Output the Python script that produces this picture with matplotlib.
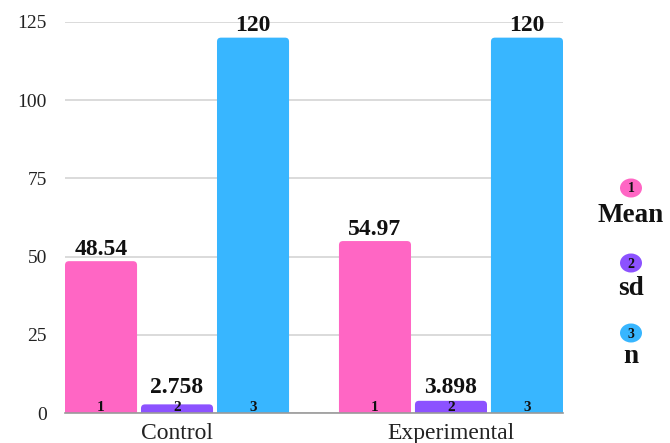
import matplotlib
matplotlib.use("Agg")
import matplotlib.pyplot as plt
from matplotlib.patches import FancyBboxPatch, Ellipse
import numpy as np

plt.rcParams['font.family'] = ['Liberation Serif', 'DejaVu Serif']

groups = ["Control", "Experimental"]
series = ["Mean", "sd", "n"]
mean_vals = [48.54, 54.97]
sd_vals = [2.758, 3.898]
n_vals = [120, 120]
value_labels = [["48.54", "54.97"], ["2.758", "3.898"], ["120", "120"]]
colors = ["#FF66C4", "#8C52FF", "#38B6FF"]
yticks = [0, 25, 50, 75, 100, 125]

fig = plt.figure(figsize=(6.7, 4.43), dpi=100)
ax = fig.add_axes([65 / 670, 1 - 413 / 443, (563 - 65) / 670, (413 - 22) / 443])

x = np.arange(len(groups))
step = 0.2774
width = 0.263
ax.set_xlim(-step - width / 2, 1 + step + width / 2)
ax.set_ylim(0, 125)

# pixel scales used for rounded bar tops
px_x = (ax.get_xlim()[1] - ax.get_xlim()[0]) / (563 - 65)
px_y = 125 / (413 - 22)
r_px = 4
# top of the small index numbers inside the bars, in data units
index_top = 14 * px_y

all_vals = [mean_vals, sd_vals, n_vals]
for i, (vals, col) in enumerate(zip(all_vals, colors)):
    bars = ax.bar(x + (i - 1) * step, vals, width, color=col, visible=False)
    for j, b in enumerate(bars):
        bx, bw, bh = b.get_x(), b.get_width(), b.get_height()
        rx = r_px * px_x
        ry = r_px * px_y
        p = FancyBboxPatch((bx + rx, 0), bw - 2 * rx, bh - ry,
                           boxstyle=f"round,pad={rx},rounding_size={rx}",
                           mutation_aspect=ry / rx,
                           facecolor=col, edgecolor="none", zorder=3)
        ax.add_patch(p)
        ax.annotate(value_labels[i][j], (bx + bw / 2, max(bh, index_top)),
                    xytext=(0, 4.5), textcoords="offset points",
                    ha="center", va="baseline",
                    fontsize=17, fontweight="bold", color="#111111",
                    annotation_clip=False, zorder=5)
        ax.text(bx + bw / 2, 0.6, str(i + 1), ha="center", va="baseline",
                fontsize=11, fontweight="bold", color="#111111", zorder=5)

ax.set_yticks(yticks)
ax.set_yticklabels([str(t) for t in yticks], fontsize=14, color="#222222")
ax.set_xticks(x)
ax.set_xticklabels(groups, fontsize=17, color="#222222")
ax.tick_params(axis="y", length=0, pad=13)
ax.tick_params(axis="x", length=0, pad=7.5)
ax.grid(axis="y", color="#d4d4d4", linewidth=1.2, zorder=0)
ax.set_axisbelow(True)
for s in ["left", "right", "top"]:
    ax.spines[s].set_visible(False)
ax.spines["bottom"].set_color("#9a9a9a")
ax.spines["bottom"].set_linewidth(1.2)
ax.spines["bottom"].set_zorder(4)

# legend: numbered badges with series names below
badge_y = [188, 263, 333]
label_y = [222, 295, 363]
lx = 631
for k, name in enumerate(series):
    e = Ellipse((lx / 670, 1 - badge_y[k] / 443), 22 / 670, 19 / 443,
                transform=fig.transFigure, facecolor=colors[k], edgecolor="none")
    fig.patches.append(e)
    fig.text(lx / 670, 1 - (badge_y[k] + 1) / 443, str(k + 1), ha="center", va="center",
             fontsize=10, fontweight="bold", color="#111111")
    fig.text(lx / 670, 1 - label_y[k] / 443, name, ha="center", va="baseline",
             fontsize=19.5, fontweight="bold", color="#111111")

fig.savefig("out.png", dpi=100)
